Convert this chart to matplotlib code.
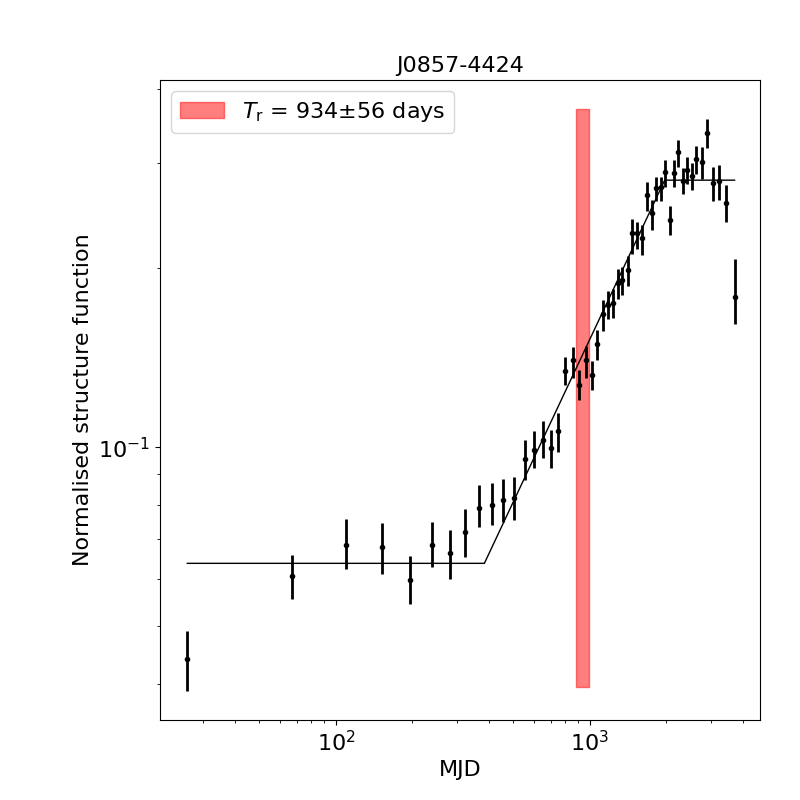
import matplotlib
matplotlib.use('Agg')
import matplotlib.pyplot as plt
import numpy as np

# lag (days), normalised structure function and its upper / lower error ends
lag = [26, 67, 110, 152, 196, 239, 282, 323, 367, 413, 456, 504, 557, 604, 656, 705, 751,
       801, 854, 909, 961, 1015, 1062, 1122, 1173, 1227, 1285, 1341, 1406, 1468, 1527, 1599,
       1673, 1750, 1815, 1900, 1969, 2061, 2137, 2230, 2318, 2420, 2517, 2610, 2754, 2876,
       3047, 3209, 3419, 3710]
sf = [0.0440, 0.0607, 0.0686, 0.0679, 0.0599, 0.0686, 0.0663, 0.0719, 0.0789, 0.0801,
      0.0814, 0.0820, 0.0957, 0.0991, 0.1030, 0.0995, 0.1063,
      0.1342, 0.1400, 0.1271, 0.1400, 0.1320, 0.1488, 0.1673, 0.1733, 0.1746, 0.1889,
      0.1909, 0.1982, 0.2286, 0.2286, 0.2247, 0.2651, 0.2471, 0.2721, 0.2733, 0.2895,
      0.2413, 0.2887, 0.3128, 0.2800, 0.2917, 0.2854, 0.3048, 0.3013, 0.3367, 0.2778,
      0.2800, 0.2570, 0.1787]
sf_hi = [0.0491, 0.0658, 0.0756, 0.0745, 0.0657, 0.0750, 0.0726, 0.0786, 0.0865, 0.0870,
         0.0884, 0.0892, 0.1030, 0.1065, 0.1105, 0.1070, 0.1143,
         0.1420, 0.1475, 0.1350, 0.1480, 0.1395, 0.1575, 0.1765, 0.1830, 0.1846, 0.1990,
         0.2006, 0.2093, 0.2418, 0.2388, 0.2362, 0.2791, 0.2604, 0.2850, 0.2850, 0.3043,
         0.2543, 0.3035, 0.3280, 0.2951, 0.3069, 0.3000, 0.3210, 0.3190, 0.3557, 0.2960,
         0.2980, 0.2762, 0.2074]
sf_lo = [0.0390, 0.0556, 0.0624, 0.0613, 0.0545, 0.0630, 0.0600, 0.0655, 0.0735, 0.0740,
         0.0750, 0.0755, 0.0880, 0.0921, 0.0960, 0.0921, 0.0981,
         0.1270, 0.1305, 0.1200, 0.1305, 0.1250, 0.1400, 0.1570, 0.1640, 0.1650, 0.1774,
         0.1800, 0.1868, 0.2115, 0.2151, 0.2101, 0.2496, 0.2321, 0.2591, 0.2590, 0.2737,
         0.2269, 0.2737, 0.2960, 0.2661, 0.2769, 0.2700, 0.2880, 0.2825, 0.3180, 0.2595,
         0.2605, 0.2387, 0.1609]

# broken power-law fit (corner points)
fit_lag = [26, 384, 1969, 3710]
fit_sf = [0.0638, 0.0638, 0.281, 0.281]

t_r = 934
t_r_err = 56
name = 'J0857-4424'

plt.rcParams['font.size'] = 16

sf = np.array(sf)
yerr = [sf - np.array(sf_lo), np.array(sf_hi) - sf]

fig = plt.figure(figsize=(8, 8), dpi=100)
ax = fig.add_axes([0.2, 0.1, 0.75, 0.8])

ax.fill_betweenx([0.9 * np.min(sf), 1.1 * np.max(sf)], t_r - t_r_err, t_r + t_r_err,
                 color='red', alpha=0.5,
                 label=r'$T_\mathrm{r}$ = %d$\pm$%d days' % (t_r, t_r_err))
ax.errorbar(lag, sf, yerr=yerr, fmt='k.', elinewidth=2, markersize=6)
ax.plot(fit_lag, fit_sf, 'k-', lw=1)

ax.set_xscale('log')
ax.set_yscale('log')
ax.set_xlim(20.3, 4670)
ax.set_ylim(0.0348, 0.414)
ax.set_xlabel('MJD')
ax.set_ylabel('Normalised structure function')
ax.set_title(name, fontsize=16)
ax.legend(loc='upper left')

fig.savefig('out.png')
